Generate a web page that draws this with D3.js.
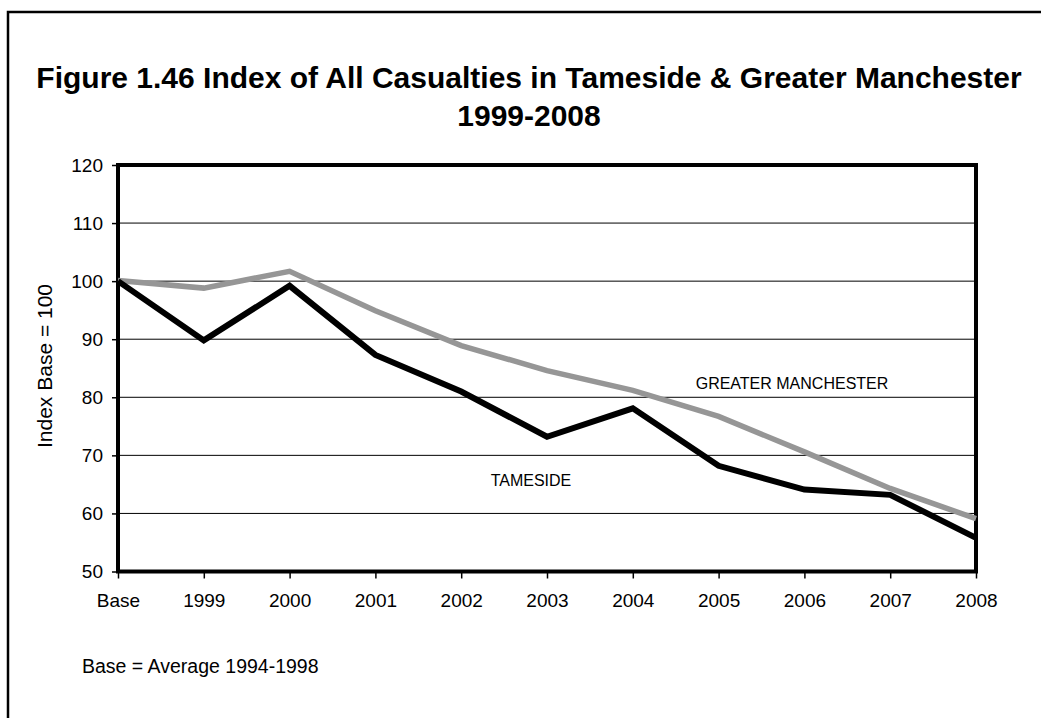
<!DOCTYPE html>
<html><head><meta charset="utf-8">
<script src="https://cdn.jsdelivr.net/npm/d3@7"></script>
<style>body{margin:0;background:#fff;} svg{display:block;font-family:"Liberation Sans",Arial,sans-serif;}</style>
</head><body>
<svg id="c" width="1041" height="718"></svg>
<script>
const categories = ["Base","1999","2000","2001","2002","2003","2004","2005","2006","2007","2008"];
const tameside = [100, 89.8, 99.2, 87.3, 81.0, 73.2, 78.1, 68.2, 64.1, 63.2, 55.8];
const greaterManchester = [100.1, 98.8, 101.7, 94.9, 88.9, 84.6, 81.2, 76.7, 70.6, 64.3, 59.1];
const yTicks = [50, 60, 70, 80, 90, 100, 110, 120];

const svg = d3.select("#c");
const L = 118, R = 976, T = 165, B = 571.5;
const x = d3.scalePoint().domain(categories).range([L, R]);
const y = d3.scaleLinear().domain([50, 120]).range([B, T]);

// outer frame
svg.append("path").attr("d", "M8,718 V12 H1041").attr("fill","none").attr("stroke","#000").attr("stroke-width",2.5);

// title
svg.append("text").attr("x", 529).attr("y", 88).attr("text-anchor","middle")
  .attr("font-size", 30).attr("font-weight","bold").text("Figure 1.46 Index of All Casualties in Tameside & Greater Manchester");
svg.append("text").attr("x", 529).attr("y", 126).attr("text-anchor","middle")
  .attr("font-size", 30).attr("font-weight","bold").text("1999-2008");

// gridlines
svg.append("g").selectAll("line").data(yTicks.filter(d => d > 50 && d < 120)).join("line")
  .attr("x1", L).attr("x2", R).attr("y1", d => y(d)).attr("y2", d => y(d))
  .attr("stroke","#000").attr("stroke-width",1);

// axes
const yAxis = svg.append("g").attr("transform", `translate(${L},0)`)
  .call(d3.axisLeft(y).tickValues(yTicks).tickSize(6).tickPadding(9));
yAxis.select(".domain").remove();
yAxis.selectAll("line").attr("stroke","#000").attr("stroke-width",1.5);
yAxis.selectAll("text").attr("font-size",19).attr("fill","#000").attr("font-family","Liberation Sans, Arial, sans-serif");

const xAxis = svg.append("g").attr("transform", `translate(0,${B})`)
  .call(d3.axisBottom(x).tickSize(7).tickPadding(15));
xAxis.select(".domain").remove();
xAxis.selectAll("line").attr("stroke","#000").attr("stroke-width",1.5);
xAxis.selectAll("text").attr("font-size",19).attr("fill","#000").attr("font-family","Liberation Sans, Arial, sans-serif");

// plot border
svg.append("rect").attr("x", L).attr("y", T).attr("width", R - L).attr("height", B - T)
  .attr("fill","none").attr("stroke","#000").attr("stroke-width",4);

// lines
const line = d3.line().x((d,i) => x(categories[i])).y(d => y(d));
svg.append("path").datum(greaterManchester).attr("d", line).attr("fill","none")
  .attr("stroke","#969696").attr("stroke-width",5.5).attr("stroke-linejoin","miter");
svg.append("path").datum(tameside).attr("d", line).attr("fill","none")
  .attr("stroke","#000").attr("stroke-width",6).attr("stroke-linejoin","miter");

// labels
svg.append("text").attr("x", 792).attr("y", 389).attr("text-anchor","middle").attr("font-size",16).text("GREATER MANCHESTER");
svg.append("text").attr("x", 531).attr("y", 486).attr("text-anchor","middle").attr("font-size",16).text("TAMESIDE");

// y label
svg.append("text").attr("transform","translate(52,366) rotate(-90)").attr("text-anchor","middle")
  .attr("font-size",21).text("Index Base = 100");

// footnote
svg.append("text").attr("x", 82).attr("y", 673).attr("font-size",19.5).text("Base = Average 1994-1998");
</script>
</body></html>
